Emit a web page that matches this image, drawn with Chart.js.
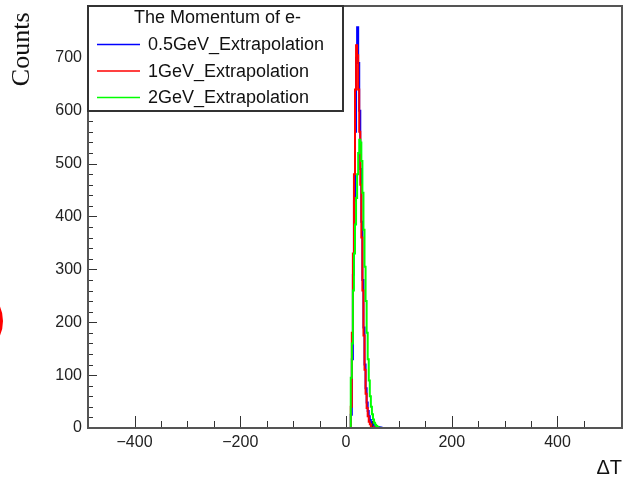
<!DOCTYPE html>
<html lang="en">
<head>
<meta charset="UTF-8">
<title>Delta T</title>
<script src="https://cdn.jsdelivr.net/npm/chart.js"></script>
<style>
    body { margin: 0; background: #fff; }
    #wrap { position: relative; width: 626px; height: 482px; overflow: hidden; }
    #mark { position: absolute; left: -67px; top: 286px; width: 70px; height: 70px; box-sizing: border-box;
            border: 3px solid #f00; border-radius: 50%; }
</style>
</head>
<body>
<div id="wrap">
    <canvas id="myChart" width="626" height="482"></canvas>
    <div id="mark"></div>
</div>
<script>
    // bin centres (bin width 2) and counts per series
    const binCenters = [10, 12, 14, 16, 18, 20, 22, 24, 26, 28, 30, 32, 34, 36, 38, 40,
                        42, 44, 46, 48, 50, 52, 54, 56, 58, 60, 62, 64, 66, 68, 70];
    const blueCounts = [0, 25, 130, 290, 430, 560, 700, 758, 690, 600, 490, 390, 280, 190, 120, 75,
                        48, 32, 22, 15, 11, 8, 6, 5, 4, 3, 2, 2, 1, 1, 0];
    const redCounts = [0, 40, 180, 330, 480, 640, 724, 705, 640, 560, 460, 360, 260, 175, 110, 65,
                       38, 22, 12, 7, 4, 2, 1, 0, 0, 0, 0, 0, 0, 0, 0];
    const greenCounts = [0, 95, 160, 260, 330, 385, 435, 480, 520, 545, 540, 505, 445, 375, 305, 240,
                         180, 130, 90, 60, 40, 26, 16, 10, 6, 4, 2, 1, 0, 0, 0];
    const seriesLabels = ['0.5GeV_Extrapolation', '1GeV_Extrapolation', '2GeV_Extrapolation'];
    const seriesColors = ['#0000ff', '#ff0000', '#00ff00'];
    const xTickLabels = [-400, -200, 0, 200, 400];
    const yTickLabels = [0, 100, 200, 300, 400, 500, 600, 700];

    const xMin = -488, xMax = 522, yMax = 798;

    function toSteps(counts) {
        var pts = [{ x: xMin, y: 0 }];
        for (let i = 0; i < binCenters.length; i++) {
            pts.push({ x: binCenters[i] - 1, y: counts[i] });
        }
        pts.push({ x: binCenters[binCenters.length - 1] + 1, y: 0 });
        pts.push({ x: xMax, y: 0 });
        return pts;
    }

    function fmt(v) {
        return v < 0 ? '\u2212' + Math.abs(v) : String(v);
    }

    // ROOT style frame + inner ticks
    const frameTicks = {
        id: 'frameTicks',
        afterDraw(chart) {
            const ctx = chart.ctx;
            const a = chart.chartArea;
            const xs = chart.scales.x;
            const ys = chart.scales.y;
            ctx.save();
            ctx.strokeStyle = '#333';
            ctx.lineWidth = 1;
            ctx.beginPath();
            xs.ticks.forEach(t => {
                if (t.value % 50 !== 0) return;
                const px = Math.round(xs.getPixelForValue(t.value)) + 0.5;
                const len = t.value % 200 === 0 ? 12 : 7;
                ctx.moveTo(px, a.bottom);
                ctx.lineTo(px, a.bottom - len);
            });
            ys.ticks.forEach(t => {
                if (t.value % 20 !== 0) return;
                const py = Math.round(ys.getPixelForValue(t.value)) + 0.5;
                const len = t.value % 100 === 0 ? 9 : 5;
                ctx.moveTo(a.left, py);
                ctx.lineTo(a.left + len, py);
            });
            ctx.stroke();
            ctx.strokeStyle = '#555';
            ctx.lineWidth = 2;
            ctx.strokeRect(a.left, a.top, a.right - a.left, a.bottom - a.top);
            ctx.restore();
        }
    };

    // legend box like TLegend
    const rootLegend = {
        id: 'rootLegend',
        afterDraw(chart) {
            const ctx = chart.ctx;
            const a = chart.chartArea;
            const x0 = a.left, y0 = a.top, w = 255, h = 105;
            ctx.save();
            ctx.fillStyle = '#fff';
            ctx.fillRect(x0, y0, w, h);
            ctx.strokeStyle = '#333';
            ctx.lineWidth = 2;
            ctx.strokeRect(x0, y0, w, h);
            ctx.fillStyle = '#111';
            ctx.font = '18px "Liberation Sans", Arial, sans-serif';
            ctx.textBaseline = 'middle';
            ctx.textAlign = 'center';
            ctx.fillText('The Momentum of e-', x0 + w / 2 + 2, y0 + 12);
            ctx.textAlign = 'left';
            chart.data.datasets.forEach((ds, i) => {
                const yy = y0 + 38.5 + i * 26.5;
                ctx.strokeStyle = ds.borderColor;
                ctx.lineWidth = 1.5;
                ctx.beginPath();
                ctx.moveTo(x0 + 9, yy);
                ctx.lineTo(x0 + 52, yy);
                ctx.stroke();
                ctx.fillText(ds.label, x0 + 60, yy + 1);
            });
            ctx.restore();
        }
    };

    const ctx = document.getElementById('myChart');

    new Chart(ctx, {
        type: 'line',
        data: {
            datasets: [
                { label: seriesLabels[0], data: toSteps(blueCounts), borderColor: seriesColors[0], order: 2 },
                { label: seriesLabels[1], data: toSteps(redCounts), borderColor: seriesColors[1], order: 1 },
                { label: seriesLabels[2], data: toSteps(greenCounts), borderColor: seriesColors[2], order: 0 }
            ]
        },
        options: {
            responsive: false,
            animation: false,
            layout: { padding: { top: 6, right: 4, left: 0, bottom: 0 } },
            datasets: {
                line: { stepped: 'after', borderWidth: 2, pointRadius: 0, fill: false, clip: 5 }
            },
            plugins: {
                legend: { display: false },
                tooltip: { enabled: false }
            },
            scales: {
                x: {
                    type: 'linear',
                    min: xMin,
                    max: xMax,
                    grid: { display: false, drawTicks: false },
                    border: { display: false },
                    ticks: {
                        stepSize: 50,
                        autoSkip: false,
                        maxRotation: 0,
                        padding: 5,
                        color: '#222',
                        font: { family: 'Liberation Sans', size: 16 },
                        callback: v => xTickLabels.includes(v) ? fmt(v) : ''
                    },
                    title: {
                        display: true,
                        text: '\u0394T',
                        align: 'end',
                        color: '#111',
                        font: { family: 'Liberation Sans', size: 20 },
                        padding: { top: 0, bottom: 2 }
                    },
                    afterFit: s => { s.height = 54; s.paddingLeft = 0; s.paddingRight = 0; }
                },
                y: {
                    min: 0,
                    max: yMax,
                    grid: { display: false, drawTicks: false },
                    border: { display: false },
                    ticks: {
                        stepSize: 20,
                        autoSkip: false,
                        padding: 6,
                        color: '#222',
                        font: { family: 'Liberation Sans', size: 16 },
                        callback: v => yTickLabels.includes(v) ? String(v) : ''
                    },
                    title: {
                        display: true,
                        text: 'Counts ',
                        align: 'end',
                        color: '#111',
                        font: { family: 'Liberation Serif', size: 26 },
                        padding: { top: 7, bottom: 0 }
                    },
                    afterFit: s => { s.width = 88; s.paddingTop = 0; s.paddingBottom = 0; }
                }
            }
        },
        plugins: [frameTicks, rootLegend]
    });
</script>
</body>
</html>
